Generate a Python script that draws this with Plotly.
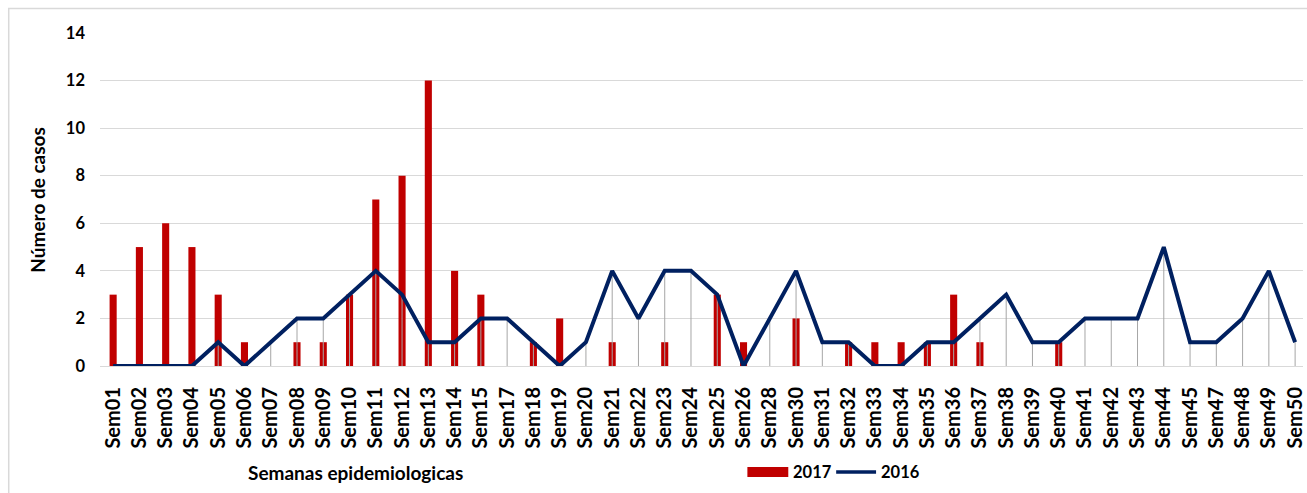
import plotly.graph_objects as go

weeks = ["Sem01", "Sem02", "Sem03", "Sem04", "Sem05", "Sem06", "Sem07", "Sem08", "Sem09", "Sem10",
         "Sem11", "Sem12", "Sem13", "Sem14", "Sem15", "Sem17", "Sem18", "Sem19", "Sem20", "Sem21",
         "Sem22", "Sem23", "Sem24", "Sem25", "Sem26", "Sem28", "Sem30", "Sem31", "Sem32", "Sem33",
         "Sem34", "Sem35", "Sem36", "Sem37", "Sem38", "Sem39", "Sem40", "Sem41", "Sem42", "Sem43",
         "Sem44", "Sem45", "Sem47", "Sem48", "Sem49", "Sem50"]

cases_2017 = [3, 5, 6, 5, 3, 1, 0, 1, 1, 3,
              7, 8, 12, 4, 3, 0, 1, 2, 0, 1,
              0, 1, 0, 3, 1, 0, 2, 0, 1, 1,
              1, 1, 3, 1, 0, 0, 1, 0, 0, 0,
              0, 0, 0, 0, 0, 0]

cases_2016 = [0, 0, 0, 0, 1, 0, 1, 2, 2, 3,
              4, 3, 1, 1, 2, 2, 1, 0, 1, 4,
              2, 4, 4, 3, 0, 2, 4, 1, 1, 0,
              0, 1, 1, 2, 3, 1, 1, 2, 2, 2,
              5, 1, 1, 2, 4, 1]

y_ticks = [0, 2, 4, 6, 8, 10, 12, 14]

RED = "#C00000"
NAVY = "#002060"
FONT = "Lato"

idx = list(range(len(weeks)))

# drop lines from the 2016 line down to the axis
drop_x, drop_y = [], []
for i, v in zip(idx, cases_2016):
    drop_x += [i, i, None]
    drop_y += [0, v, None]

fig = go.Figure()
fig.add_trace(go.Bar(x=idx, y=cases_2017, name="2017", marker_color=RED,
                     marker_line_width=0, showlegend=False))
fig.add_trace(go.Scatter(x=drop_x, y=drop_y, mode="lines",
                         line=dict(color="#A6A6A6", width=1), showlegend=False,
                         hoverinfo="skip"))
fig.add_trace(go.Scatter(x=idx, y=cases_2016, name="2016", mode="lines",
                         line=dict(color=NAVY, width=4), showlegend=False))

L, R, T, B = 100, 1, 33, 127
W, H = 1307, 493
pw = W - L - R
ph = H - T - B

def px(x):
    return (x - L) / pw

def py(y):
    return 1 - (y - T) / ph

fig.update_layout(
    width=W, height=H,
    margin=dict(l=L, r=R, t=T, b=B),
    paper_bgcolor="white", plot_bgcolor="white",
    bargap=0.73,
    font=dict(family=FONT, color="#000000"),
    xaxis=dict(
        range=[-0.5, 45.3],
        tickmode="array", tickvals=idx, ticktext=weeks,
        tickangle=-90,
        tickfont=dict(family=FONT, size=20, color="#000000", weight="bold"),
        showgrid=False, zeroline=False, showline=False,
        ticks="", ticklabelstandoff=16, ticklabeloverflow="allow",
    ),
    yaxis=dict(
        range=[0, 14],
        tickmode="array", tickvals=y_ticks,
        tickfont=dict(family=FONT, size=16.5, color="#000000", weight="bold"),
        showgrid=True, gridcolor="#D9D9D9", gridwidth=1.3,
        zeroline=True, zerolinecolor="#D9D9D9", zerolinewidth=1.3,
        showline=False, ticks="", ticklabelstandoff=14,
    ),
    shapes=[
        dict(type="rect", xref="paper", yref="paper",
             x0=px(8.5), x1=px(1330), y0=py(8.5), y1=py(520),
             line=dict(color="#D9D9D9", width=1.5), fillcolor="rgba(0,0,0,0)", layer="below"),
        dict(type="rect", xref="paper", yref="paper",
             x0=px(749), x1=px(790), y0=py(477), y1=py(467),
             line=dict(width=0), fillcolor=RED),
        dict(type="line", xref="paper", yref="paper",
             x0=px(838), x1=px(878), y0=py(472), y1=py(472),
             line=dict(color=NAVY, width=3.5)),
    ],
    annotations=[
        dict(text="<b>Número de casos</b>", xref="paper", yref="paper",
             x=px(37), y=0.5, textangle=-90, showarrow=False,
             font=dict(family=FONT, size=19, color="#000000"),
             xanchor="center", yanchor="middle"),
        dict(text="<b>Semanas epidemiologicas</b>", xref="paper", yref="paper",
             x=px(356), y=py(472), showarrow=False,
             font=dict(family=FONT, size=19, color="#000000"),
             xanchor="center", yanchor="middle"),
        dict(text="<b>2017</b>", xref="paper", yref="paper",
             x=px(793), y=py(472), showarrow=False,
             font=dict(family=FONT, size=16.5, color="#000000"),
             xanchor="left", yanchor="middle"),
        dict(text="<b>2016</b>", xref="paper", yref="paper",
             x=px(881), y=py(472), showarrow=False,
             font=dict(family=FONT, size=16.5, color="#000000"),
             xanchor="left", yanchor="middle"),
    ],
)

fig.write_html(
    "out.html",
    config={"displayModeBar": False},
    post_script="document.body.style.margin='0';document.body.style.overflow='hidden';",
)
